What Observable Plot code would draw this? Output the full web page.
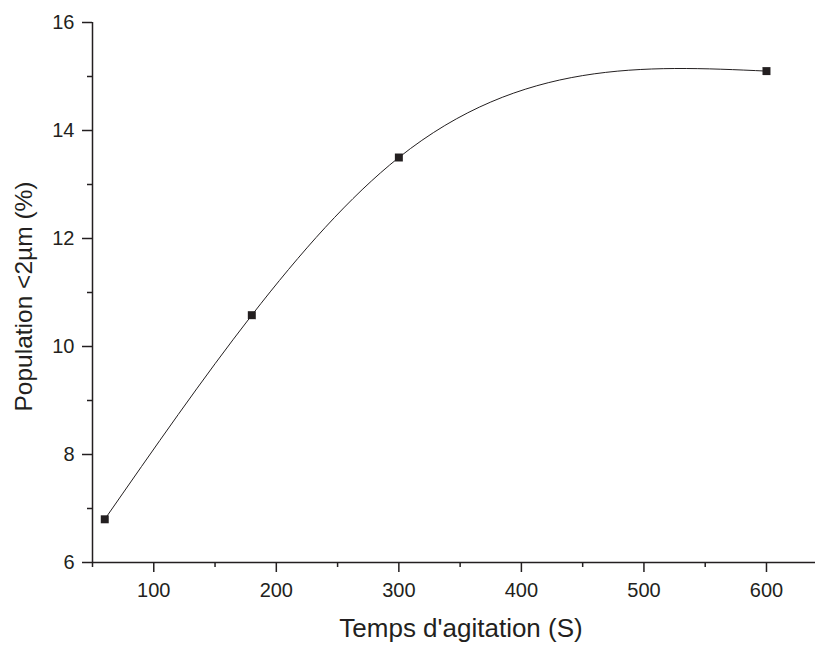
<!DOCTYPE html>
<html>
<head>
<meta charset="utf-8">
<script src="https://cdn.jsdelivr.net/npm/d3@7"></script>
<script src="https://cdn.jsdelivr.net/npm/@observablehq/plot@0.6"></script>
<style>
  html, body { margin: 0; padding: 0; background: #fff; }
  #chart svg { display: block; }
</style>
</head>
<body>
<div id="chart"></div>
<script>
// Data
const times = [60, 180, 300, 600];            // Temps d'agitation (S)
const population = [6.8, 10.58, 13.5, 15.1];  // Population <2µm (%)

const xMajorTicks = [100, 200, 300, 400, 500, 600];
const xMinorTicks = [50, 150, 250, 350, 450, 550];
const yMajorTicks = [6, 8, 10, 12, 14, 16];
const yMinorTicks = [7, 9, 11, 13, 15];

const xLabel = "Temps d'agitation (S)";
const yLabel = "Population <2µm (%)";

const data = times.map((t, i) => ({t, p: population[i]}));
const ink = "#231f20";

// Curve factory: natural cubic spline y(x) (as Origin's "spline" connect), drawn as Bézier segments
function curveNaturalX(context) {
  let xs, ys;
  return {
    areaStart() {}, areaEnd() {},
    lineStart() { xs = []; ys = []; },
    point(x, y) { xs.push(+x); ys.push(+y); },
    lineEnd() {
      const n = xs.length;
      if (!n) return;
      context.moveTo(xs[0], ys[0]);
      if (n === 1) return;
      if (n === 2) { context.lineTo(xs[1], ys[1]); return; }
      const h = [], s = [];
      for (let i = 0; i < n - 1; i++) { h[i] = xs[i + 1] - xs[i]; s[i] = (ys[i + 1] - ys[i]) / h[i]; }
      const M = new Array(n).fill(0);
      const m = n - 2, a = [], b = [], c = [], d = [];
      for (let k = 0; k < m; k++) {
        const i = k + 1;
        a[k] = h[i - 1]; b[k] = 2 * (h[i - 1] + h[i]); c[k] = h[i]; d[k] = 6 * (s[i] - s[i - 1]);
      }
      for (let k = 1; k < m; k++) {
        const w = a[k] / b[k - 1];
        b[k] -= w * c[k - 1]; d[k] -= w * d[k - 1];
      }
      M[m] = d[m - 1] / b[m - 1];
      for (let k = m - 2; k >= 0; k--) M[k + 1] = (d[k] - c[k] * M[k + 2]) / b[k];
      for (let i = 0; i < n - 1; i++) {
        const hi = h[i];
        const m0 = s[i] - hi * (2 * M[i] + M[i + 1]) / 6;
        const m1 = s[i] + hi * (M[i] + 2 * M[i + 1]) / 6;
        context.bezierCurveTo(xs[i] + hi / 3, ys[i] + m0 * hi / 3, xs[i + 1] - hi / 3, ys[i + 1] - m1 * hi / 3, xs[i + 1], ys[i + 1]);
      }
    }
  };
}

const fmt = (d) => String(d);

const chart = Plot.plot({
  width: 818,
  height: 645,
  marginLeft: 92,
  marginRight: 3,
  marginTop: 22,
  marginBottom: 83,
  style: {fontFamily: "'Liberation Sans', Arial, sans-serif", color: ink, background: "#fff"},
  x: {domain: [50, 640]},
  y: {domain: [6, 16]},
  marks: [
    Plot.axisX(xMinorTicks, {tickSize: 5, text: null, stroke: ink, strokeWidth: 1.5, label: null}),
    Plot.axisX(xMajorTicks, {tickSize: 10, tickPadding: 10, fontSize: 20, tickFormat: fmt, stroke: ink, strokeWidth: 1.5, fill: ink, label: null}),
    Plot.axisY(yMinorTicks, {tickSize: 5, text: null, stroke: ink, strokeWidth: 1.5, label: null}),
    Plot.axisY(yMajorTicks, {tickSize: 10, tickPadding: 8, fontSize: 20, tickFormat: fmt, stroke: ink, strokeWidth: 1.5, fill: ink, label: null}),
    Plot.ruleX([50], {stroke: ink, strokeWidth: 1.5}),
    Plot.ruleY([6], {stroke: ink, strokeWidth: 1.5}),
    Plot.line(data, {x: "t", y: "p", curve: curveNaturalX, stroke: ink, strokeWidth: 1}),
    Plot.dot(data, {x: "t", y: "p", symbol: "square", r: 4.5, fill: ink, stroke: "none"}),
    Plot.text([xLabel], {frameAnchor: "bottom", lineAnchor: "middle", dx: 7, dy: 66.5, fontSize: 26, fill: ink, textAnchor: "middle"}),
    Plot.text([yLabel], {frameAnchor: "left", lineAnchor: "middle", dx: -68, dy: 4, rotate: -90, fontSize: 24.5, fill: ink, textAnchor: "middle"})
  ]
});
document.getElementById("chart").append(chart);
</script>
</body>
</html>
